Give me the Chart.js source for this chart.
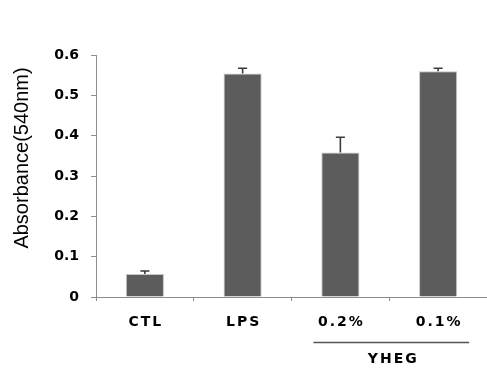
<!DOCTYPE html>
<html>
<head>
<meta charset="utf-8">
<script src="https://cdn.jsdelivr.net/npm/chart.js@4.4.1/dist/chart.umd.min.js"></script>
<style>
  html, body { margin: 0; padding: 0; background: #fff; }
  #wrap { width: 487px; height: 369px; }
</style>
</head>
<body>
<div id="wrap"><canvas id="absChart" width="487" height="369"></canvas></div>
<script>
// data
const categories = ['CTL', 'LPS', '0.2%', '0.1%'];
const absorbance = [0.057, 0.554, 0.358, 0.560];
const errors = [0.0075, 0.013, 0.038, 0.007];
const yTickLabels = ['0', '0.1', '0.2', '0.3', '0.4', '0.5', '0.6'];
const groupLabel = 'YHEG';
const groupMembers = [2, 3];
const yTitle = 'Absorbance(540nm)';

const AXIS_GREY = '#8c8c8c';

// error bars (upper side only), drawn through the scales
const errorBars = {
    id: 'errorBars',
    afterDatasetsDraw(chart) {
        const ctx = chart.ctx;
        const xs = chart.scales.x, ys = chart.scales.y;
        ctx.save();
        ctx.strokeStyle = '#3a3a3a';
        ctx.lineWidth = 1.6;
        absorbance.forEach((v, i) => {
            const x = xs.getPixelForValue(i);
            const yb = ys.getPixelForValue(v);
            const yt = ys.getPixelForValue(v + errors[i]);
            ctx.beginPath();
            ctx.moveTo(x, yb);
            ctx.lineTo(x, yt);
            ctx.moveTo(x - 4.5, yt);
            ctx.lineTo(x + 4.5, yt);
            ctx.stroke();
        });
        ctx.restore();
    }
};

// category labels, group bracket and y title
const labelsPlugin = {
    id: 'labelsPlugin',
    afterDraw(chart) {
        const ctx = chart.ctx;
        const xs = chart.scales.x;
        ctx.save();
        ctx.fillStyle = '#000';
        ctx.textAlign = 'center';
        ctx.textBaseline = 'middle';
        ctx.font = 'bold 14px "DejaVu Sans", sans-serif';
        ctx.letterSpacing = '2px';
        categories.forEach((c, i) => {
            ctx.fillText(c, xs.getPixelForValue(i) + 1, 322);
        });

        // YHEG bracket
        const x1 = xs.getPixelForValue(groupMembers[0]) - 27;
        const x2 = xs.getPixelForValue(groupMembers[1]) + 31;
        ctx.strokeStyle = '#555';
        ctx.lineWidth = 1.5;
        ctx.beginPath();
        ctx.moveTo(x1, 342.5);
        ctx.lineTo(x2, 342.5);
        ctx.stroke();
        ctx.fillText(groupLabel, (x1 + x2) / 2 + 2, 359);

        // y axis title
        ctx.letterSpacing = '0px';
        ctx.font = '20px "Liberation Sans", Arial, sans-serif';
        ctx.translate(22.5, 158);
        ctx.rotate(-Math.PI / 2);
        ctx.fillText(yTitle, 0, 0);
        ctx.restore();
    }
};

new Chart(document.getElementById('absChart'), {
    type: 'bar',
    data: {
        labels: categories,
        datasets: [{
            data: absorbance,
            backgroundColor: '#5c5c5c',
            borderColor: '#c4c4c4',
            borderWidth: 1,
            barPercentage: 0.39,
            categoryPercentage: 1
        }]
    },
    options: {
        responsive: false,
        animation: false,
        devicePixelRatio: 1,
        layout: { padding: { top: 55, left: 0, right: 0, bottom: 0 } },
        plugins: {
            legend: { display: false },
            tooltip: { enabled: false }
        },
        scales: {
            x: {
                offset: true,
                afterFit: (s) => { s.height = 72; },
                grid: {
                    offset: true,
                    drawOnChartArea: false,
                    drawTicks: true,
                    tickLength: 4,
                    color: AXIS_GREY
                },
                border: { color: AXIS_GREY, width: 1 },
                ticks: { display: false }
            },
            y: {
                min: 0,
                max: 0.6,
                afterFit: (s) => { s.width = 96; },
                grid: {
                    drawOnChartArea: false,
                    drawTicks: true,
                    tickLength: 5,
                    color: AXIS_GREY
                },
                border: { color: AXIS_GREY, width: 1 },
                ticks: {
                    stepSize: 0.1,
                    padding: 12,
                    color: '#000',
                    font: { family: '"DejaVu Sans", sans-serif', size: 14, weight: 'bold' },
                    callback: (value, index) => yTickLabels[index]
                }
            }
        }
    },
    plugins: [errorBars, labelsPlugin]
});
</script>
</body>
</html>
